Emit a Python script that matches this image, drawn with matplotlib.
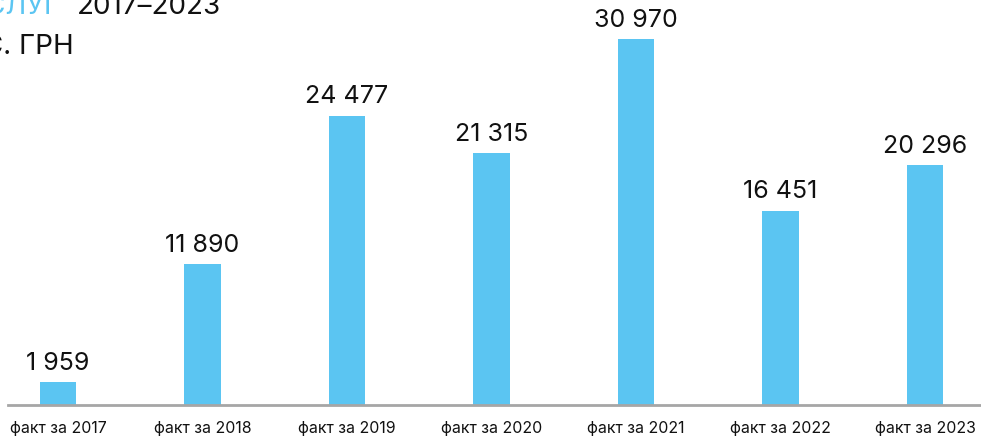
import matplotlib
matplotlib.use("Agg")
import matplotlib.pyplot as plt

plt.rcParams['font.family'] = ['Inter', 'DejaVu Sans']

years = ["факт за 2017", "факт за 2018", "факт за 2019", "факт за 2020",
         "факт за 2021", "факт за 2022", "факт за 2023"]
values = [1959, 11890, 24477, 21315, 30970, 16451, 20296]
labels = ["1 959", "11 890", "24 477", "21 315", "30 970", "16 451", "20 296"]

blue = "#5BC5F2"

fig = plt.figure(figsize=(9.81, 4.39), dpi=100)
ax = fig.add_axes([8 / 981, 33 / 439, 1 - 8 / 981, 406 / 439])

x = list(range(len(values)))
ax.bar(x, values, width=0.25, color=blue)
for xi, v, lab in zip(x, values, labels):
    ax.text(xi, v + 700, lab, ha="center", va="bottom", fontsize=18, color="#111111")

ax.set_xlim(-0.346, 6.387)
ax.set_ylim(0, 34354)
ax.set_xticks(x)
ax.set_xticklabels(years, fontsize=11.4, color="#111111")
ax.tick_params(axis="x", length=0, pad=11)
ax.set_yticks([])
for s in ["top", "left", "right"]:
    ax.spines[s].set_visible(False)
ax.spines["bottom"].set_color("#a6a6a6")
ax.spines["bottom"].set_linewidth(2)

# title, partly cut off at the left edge as in the original
fig.text(60 / 981, (439 - 14) / 439, "ОБСЯГ ПОСЛУГ", ha="right", va="baseline",
         fontsize=20, color=blue)
fig.text(77 / 981, (439 - 14) / 439, "2017–2023", ha="left", va="baseline",
         fontsize=20, color="#111111")
fig.text(74 / 981, (439 - 54) / 439, "ТИС. ГРН", ha="right", va="baseline",
         fontsize=20, color="#111111")

fig.savefig("out.png", dpi=100)
